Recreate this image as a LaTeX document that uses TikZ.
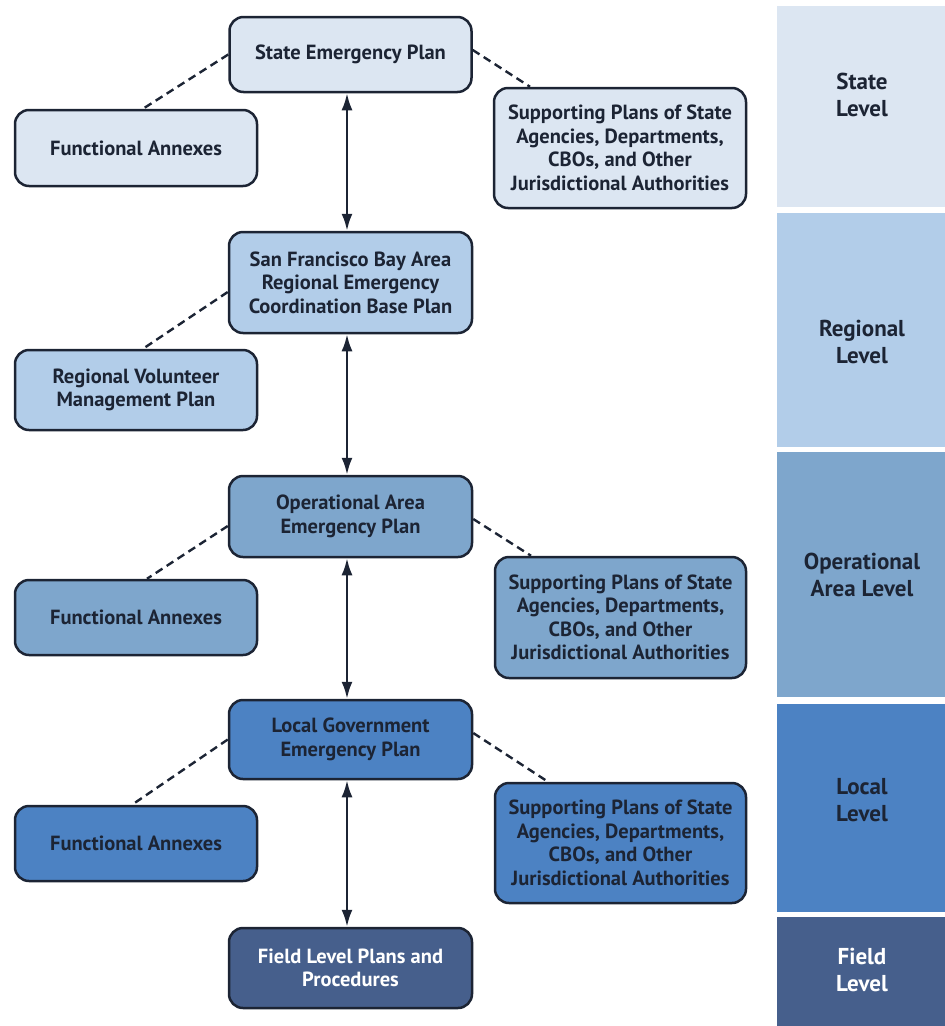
\documentclass[tikz,border=0pt]{standalone}
\usepackage{fontspec}
\setmainfont{PT Sans}
\usetikzlibrary{arrows.meta}
\definecolor{cState}{RGB}{220,230,242}
\definecolor{cReg}{RGB}{178,205,233}
\definecolor{cOp}{RGB}{126,166,204}
\definecolor{cLoc}{RGB}{76,130,195}
\definecolor{cField}{RGB}{70,95,140}
\definecolor{cText}{RGB}{28,36,52}
\tikzset{
  plan/.style={draw=cText, line width=2.5pt, rounded corners=14pt, align=center,
    font=\fontsize{20.5}{23.5}\selectfont\bfseries, text=cText, inner sep=2pt},
  level/.style={align=center, font=\fontsize{23}{27}\selectfont\bfseries, text=cText},
  link/.style={draw=cText, line width=2.4pt, dash pattern=on 8pt off 5pt},
  flow/.style={draw=cText, line width=2.4pt, {Latex[length=17pt,width=11pt]}-{Latex[length=17pt,width=11pt]}},
}
\begin{document}
\begin{tikzpicture}[x=1pt,y=1pt]
\useasboundingbox (0,0) rectangle (945,-1026);
% level panels
\fill[cState] (777,-6) rectangle (945,-207);
\fill[cReg] (777,-213) rectangle (945,-447);
\fill[cOp] (777,-452) rectangle (945,-697);
\fill[cLoc] (777,-704) rectangle (945,-912);
\fill[cField] (777,-917) rectangle (945,-1026);
\node[level] (lstate) at (862,-95) {State\\Level};
\node[level] (lreg) at (862,-342) {Regional\\Level};
\node[level] (lop) at (862,-575) {Operational\\Area Level};
\node[level] (lloc) at (862,-800) {Local\\Level};
\node[level, text=white] (lfield) at (862,-970) {Field\\Level};
% plan boxes
\node[plan, fill=cState, minimum width=242pt, minimum height=75pt] (state) at (350.5,-54.5) {State Emergency Plan};
\node[plan, fill=cState, minimum width=242pt, minimum height=76pt] (func1) at (136,-148) {Functional Annexes};
\node[plan, fill=cState, minimum width=252pt, minimum height=120pt] (supp1) at (620,-148) {Supporting Plans of State\\Agencies, Departments,\\CBOs, and Other\\Jurisdictional Authorities};
\node[plan, fill=cReg, minimum width=243pt, minimum height=101pt] (reg) at (350.5,-282.5) {San Francisco Bay Area\\Regional Emergency\\Coordination Base Plan};
\node[plan, fill=cReg, minimum width=242pt, minimum height=80pt] (rvm) at (136,-390) {Regional Volunteer\\Management Plan};
\node[plan, fill=cOp, minimum width=243pt, minimum height=81pt] (op) at (350.5,-516.5) {Operational Area\\Emergency Plan};
\node[plan, fill=cOp, minimum width=242pt, minimum height=75pt] (func2) at (136,-617.5) {Functional Annexes};
\node[plan, fill=cOp, minimum width=251pt, minimum height=121pt] (supp2) at (620.5,-617.5) {Supporting Plans of State\\Agencies, Departments,\\CBOs, and Other\\Jurisdictional Authorities};
\node[plan, fill=cLoc, minimum width=243pt, minimum height=79pt] (loc) at (350.5,-739.5) {Local Government\\Emergency Plan};
\node[plan, fill=cLoc, minimum width=242pt, minimum height=75pt] (func3) at (136,-843.5) {Functional Annexes};
\node[plan, fill=cLoc, minimum width=251pt, minimum height=120pt] (supp3) at (620.5,-843) {Supporting Plans of State\\Agencies, Departments,\\CBOs, and Other\\Jurisdictional Authorities};
\node[plan, fill=cField, text=white, minimum width=243pt, minimum height=80pt] (field) at (350.5,-968) {Field Level Plans and\\Procedures};
% vertical arrows
\draw[flow] ([xshift=-3.5pt]state.south) -- ([xshift=-3.5pt]reg.north);
\draw[flow] ([xshift=-3.5pt]reg.south) -- ([xshift=-3.5pt]op.north);
\draw[flow] ([xshift=-3.5pt]op.south) -- ([xshift=-3.5pt]loc.north);
\draw[flow] ([xshift=-3.5pt]loc.south) -- ([xshift=-3.5pt]field.north);
% dashed links
\draw[link] (state.west) -- ([xshift=7pt]func1.north);
\draw[link] ([yshift=4.5pt]state.east) -- ([xshift=-90pt]supp1.north);
\draw[link] ([yshift=-9.5pt]reg.west) -- ([xshift=7pt]rvm.north);
\draw[link] ([yshift=-9.5pt]op.west) -- ([xshift=11pt]func2.north);
\draw[link] ([yshift=-2.5pt]op.east) -- ([xshift=-89.5pt]supp2.north);
\draw[link] (loc.west) -- ([xshift=-4pt]func3.north);
\draw[link] ([yshift=6.5pt]loc.east) -- ([xshift=-72.5pt]supp3.north);
\end{tikzpicture}
\end{document}
